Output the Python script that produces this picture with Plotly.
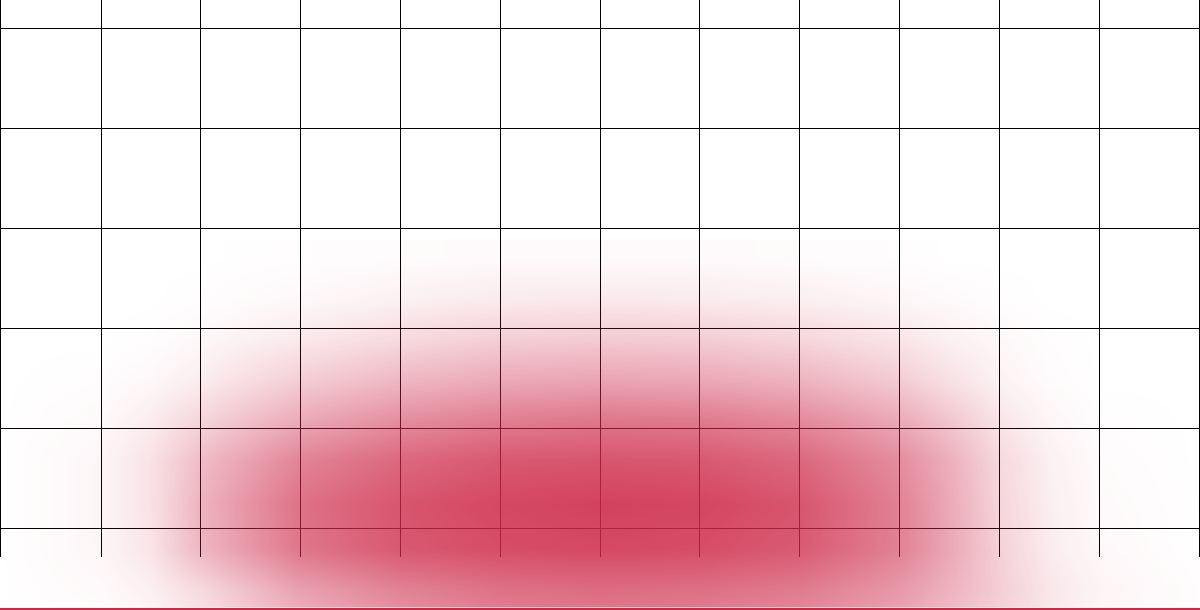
import plotly.graph_objs as go

# blob intensity (0 = none, 1 = strongest red)
blob_x = [0, 100, 150, 200, 300, 400, 500, 600, 700, 800, 900, 950, 1000, 1050, 1100, 1200]
blob_y = [260, 300, 340, 380, 420, 460, 505, 550, 590, 610]
blob_z = [
    [0, 0, 0, 0, 0.01, 0.02, 0.03, 0.03, 0.03, 0.02, 0.01, 0, 0, 0, 0, 0],
    [0, 0, 0, 0.01, 0.04, 0.08, 0.11, 0.12, 0.11, 0.09, 0.05, 0.03, 0.01, 0, 0, 0],
    [0, 0, 0.01, 0.04, 0.12, 0.20, 0.26, 0.28, 0.27, 0.22, 0.14, 0.08, 0.04, 0.01, 0, 0],
    [0, 0.01, 0.04, 0.10, 0.26, 0.38, 0.45, 0.48, 0.46, 0.40, 0.27, 0.16, 0.07, 0.02, 0, 0],
    [0, 0.03, 0.10, 0.22, 0.45, 0.60, 0.68, 0.72, 0.70, 0.62, 0.45, 0.30, 0.14, 0.05, 0.01, 0],
    [0, 0.05, 0.15, 0.35, 0.65, 0.80, 0.88, 0.90, 0.88, 0.80, 0.60, 0.42, 0.20, 0.08, 0.02, 0],
    [0, 0.05, 0.15, 0.40, 0.75, 0.90, 0.97, 1.00, 0.98, 0.90, 0.66, 0.45, 0.22, 0.09, 0.03, 0],
    [0, 0.05, 0.14, 0.38, 0.72, 0.88, 0.94, 0.96, 0.94, 0.87, 0.66, 0.46, 0.24, 0.10, 0.04, 0],
    [0, 0.03, 0.08, 0.20, 0.50, 0.66, 0.75, 0.78, 0.76, 0.70, 0.54, 0.40, 0.26, 0.13, 0.06, 0.01],
    [0, 0.02, 0.06, 0.16, 0.44, 0.60, 0.69, 0.72, 0.70, 0.64, 0.50, 0.37, 0.24, 0.12, 0.05, 0.01],
]

RED = '205,40,72'

# empty trace so the grid subplot gets drawn
grid = go.Scatter(x=[], y=[], xaxis='x', yaxis='y', hoverinfo='skip')

# the red glow, drawn over the grid subplot
blob = go.Heatmap(
    x=blob_x, y=blob_y, z=blob_z,
    xaxis='x2', yaxis='y2',
    zmin=0, zmax=1,
    zsmooth='best',
    showscale=False,
    hoverinfo='skip',
    colorscale=[[0, 'rgba(%s,0)' % RED], [1, 'rgba(%s,0.88)' % RED]],
)

layout = go.Layout(
    width=1200,
    height=610,
    margin=dict(l=0, r=0, t=0, b=0),
    paper_bgcolor='white',
    plot_bgcolor='rgba(0,0,0,0)',
    showlegend=False,
    # grid area: stops short of the bottom of the page
    xaxis=dict(
        domain=[0.001, 0.999], range=[0, 1200],
        tick0=0, dtick=100,
        showgrid=True, gridcolor='black', gridwidth=1,
        zeroline=False, showticklabels=False, ticks='',
        anchor='y',
    ),
    yaxis=dict(
        domain=[53 / 610, 1], range=[556.5, -0.5],
        tick0=28, dtick=100,
        showgrid=True, gridcolor='black', gridwidth=1,
        zeroline=False, showticklabels=False, ticks='',
        showline=True, mirror=True, linecolor='black', linewidth=1,
        anchor='x',
    ),
    # full-page axes for the glow, with the red line along the bottom
    xaxis2=dict(
        domain=[0, 1], range=[0, 1200],
        showgrid=False, zeroline=False, showticklabels=False, ticks='',
        showline=True, linecolor='rgb(%s)' % RED, linewidth=2,
        anchor='y2',
    ),
    yaxis2=dict(
        domain=[0.004, 1], range=[608, 0],
        showgrid=False, zeroline=False, showticklabels=False, ticks='',
        anchor='x2',
    ),
)

fig = go.Figure([grid, blob], layout=layout)
fig.write_html("out.html", config={'displayModeBar': False},
               post_script="document.body.style.margin='0';")
